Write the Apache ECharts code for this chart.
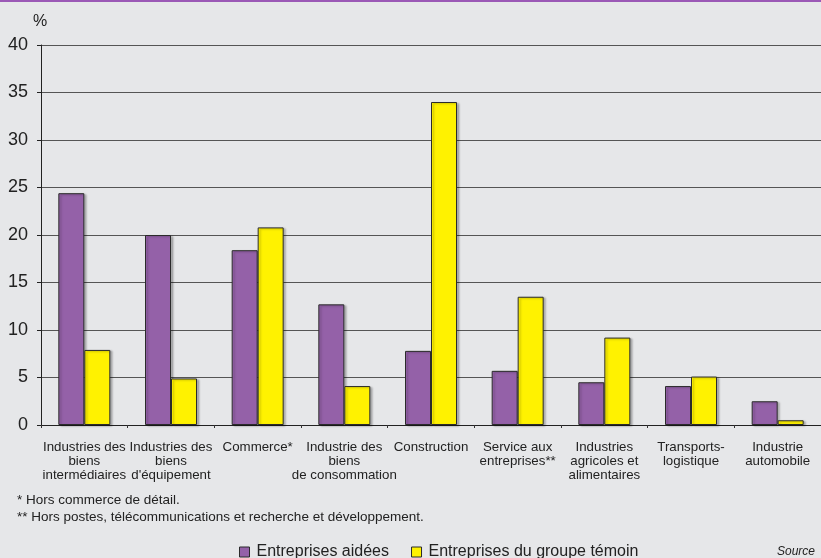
<!DOCTYPE html>
<html><head><meta charset="utf-8">
<script src="https://cdn.jsdelivr.net/npm/echarts@6/dist/echarts.min.js"></script>
<style>html,body{margin:0;padding:0;background:#e6e7e9;}#c{width:821px;height:558px;}</style>
</head><body><div id="c"></div>
<script>
const categories = ["Industries des\nbiens\nintermédiaires","Industries des\nbiens\nd'équipement","Commerce*","Industrie des\nbiens\nde consommation","Construction","Service aux\nentreprises**","Industries\nagricoles et\nalimentaires","Transports-\nlogistique","Industrie\nautomobile"];
const aidees = [24.4, 20.0, 18.4, 12.7, 7.8, 5.7, 4.5, 4.1, 2.5];
const temoin = [7.9, 4.9, 20.8, 4.1, 34.0, 13.5, 9.2, 5.1, 0.5];
const seriesNames = ["Entreprises aidées", "Entreprises du groupe témoin"];
const yTicks = {min: 0, max: 40, interval: 5};
const footnotes = ["* Hors commerce de détail.", "** Hors postes, télécommunications et recherche et développement."];

const chart = echarts.init(document.getElementById('c'), null, {renderer: 'canvas'});
const F = '"Liberation Sans", Arial, sans-serif';
const barStyle = (c) => ({color: c, borderColor: '#2b2b2b', borderWidth: 1, shadowColor: 'rgba(0,0,0,0.25)', shadowOffsetX: 2, shadowOffsetY: 1, shadowBlur: 2});
chart.setOption({
  backgroundColor: '#e6e7e9',
  animation: false,
  textStyle: {fontFamily: F},
  grid: {left: 41, top: 45, width: 792, height: 380, containLabel: false},
  legend: {
    top: 544, left: 239, padding: 0, itemGap: 22, itemWidth: 10, itemHeight: 10, icon: 'rect',
    itemStyle: {borderColor: '#2b2b2b', borderWidth: 1},
    textStyle: {fontFamily: F, fontSize: 16, color: '#222', padding: [0,0,0,2]},
    data: seriesNames
  },
  xAxis: {
    type: 'category', data: categories,
    axisLine: {lineStyle: {color: '#222', width: 1}},
    axisTick: {show: true, length: 3, lineStyle: {color: '#333'}},
    axisLabel: {fontFamily: F, fontSize: 13.3, color: '#222', margin: 15, lineHeight: 14, interval: 0, align: 'center', verticalAlign: 'top'}
  },
  yAxis: {
    type: 'value', min: yTicks.min, max: yTicks.max, interval: yTicks.interval,
    name: '%', nameLocation: 'end', nameGap: 15,
    nameTextStyle: {fontFamily: F, fontSize: 16, color: '#222', align: 'left', padding: [0,0,0,-8]},
    axisLine: {show: true, lineStyle: {color: '#222', width: 1}},
    axisTick: {show: true, length: 4, lineStyle: {color: '#222'}},
    axisLabel: {fontFamily: F, fontSize: 18, color: '#222', margin: 13},
    splitLine: {show: true, lineStyle: {color: '#555', width: 1.2}}
  },
  graphic: [
    {type: 'rect', left: 0, top: 0, shape: {width: 821, height: 2}, style: {fill: '#9b59b6'}},
    {type: 'text', left: 17, top: 493, style: {text: footnotes[0], font: '13.5px ' + F, fill: '#222'}},
    {type: 'text', left: 17, top: 510, style: {text: footnotes[1], font: '13.5px ' + F, fill: '#222'}},
    {type: 'text', left: 777, top: 546, style: {text: 'Source', font: 'italic 12px ' + F, fill: '#222'}}
  ],
  series: [
    {name: seriesNames[0], type: 'bar', data: aidees, barWidth: 26, barGap: '0%', itemStyle: barStyle('#9461a8')},
    {name: seriesNames[1], type: 'bar', data: temoin, barWidth: 26, barGap: '0%', itemStyle: barStyle('#fff200')}
  ]
});
</script></body></html>
